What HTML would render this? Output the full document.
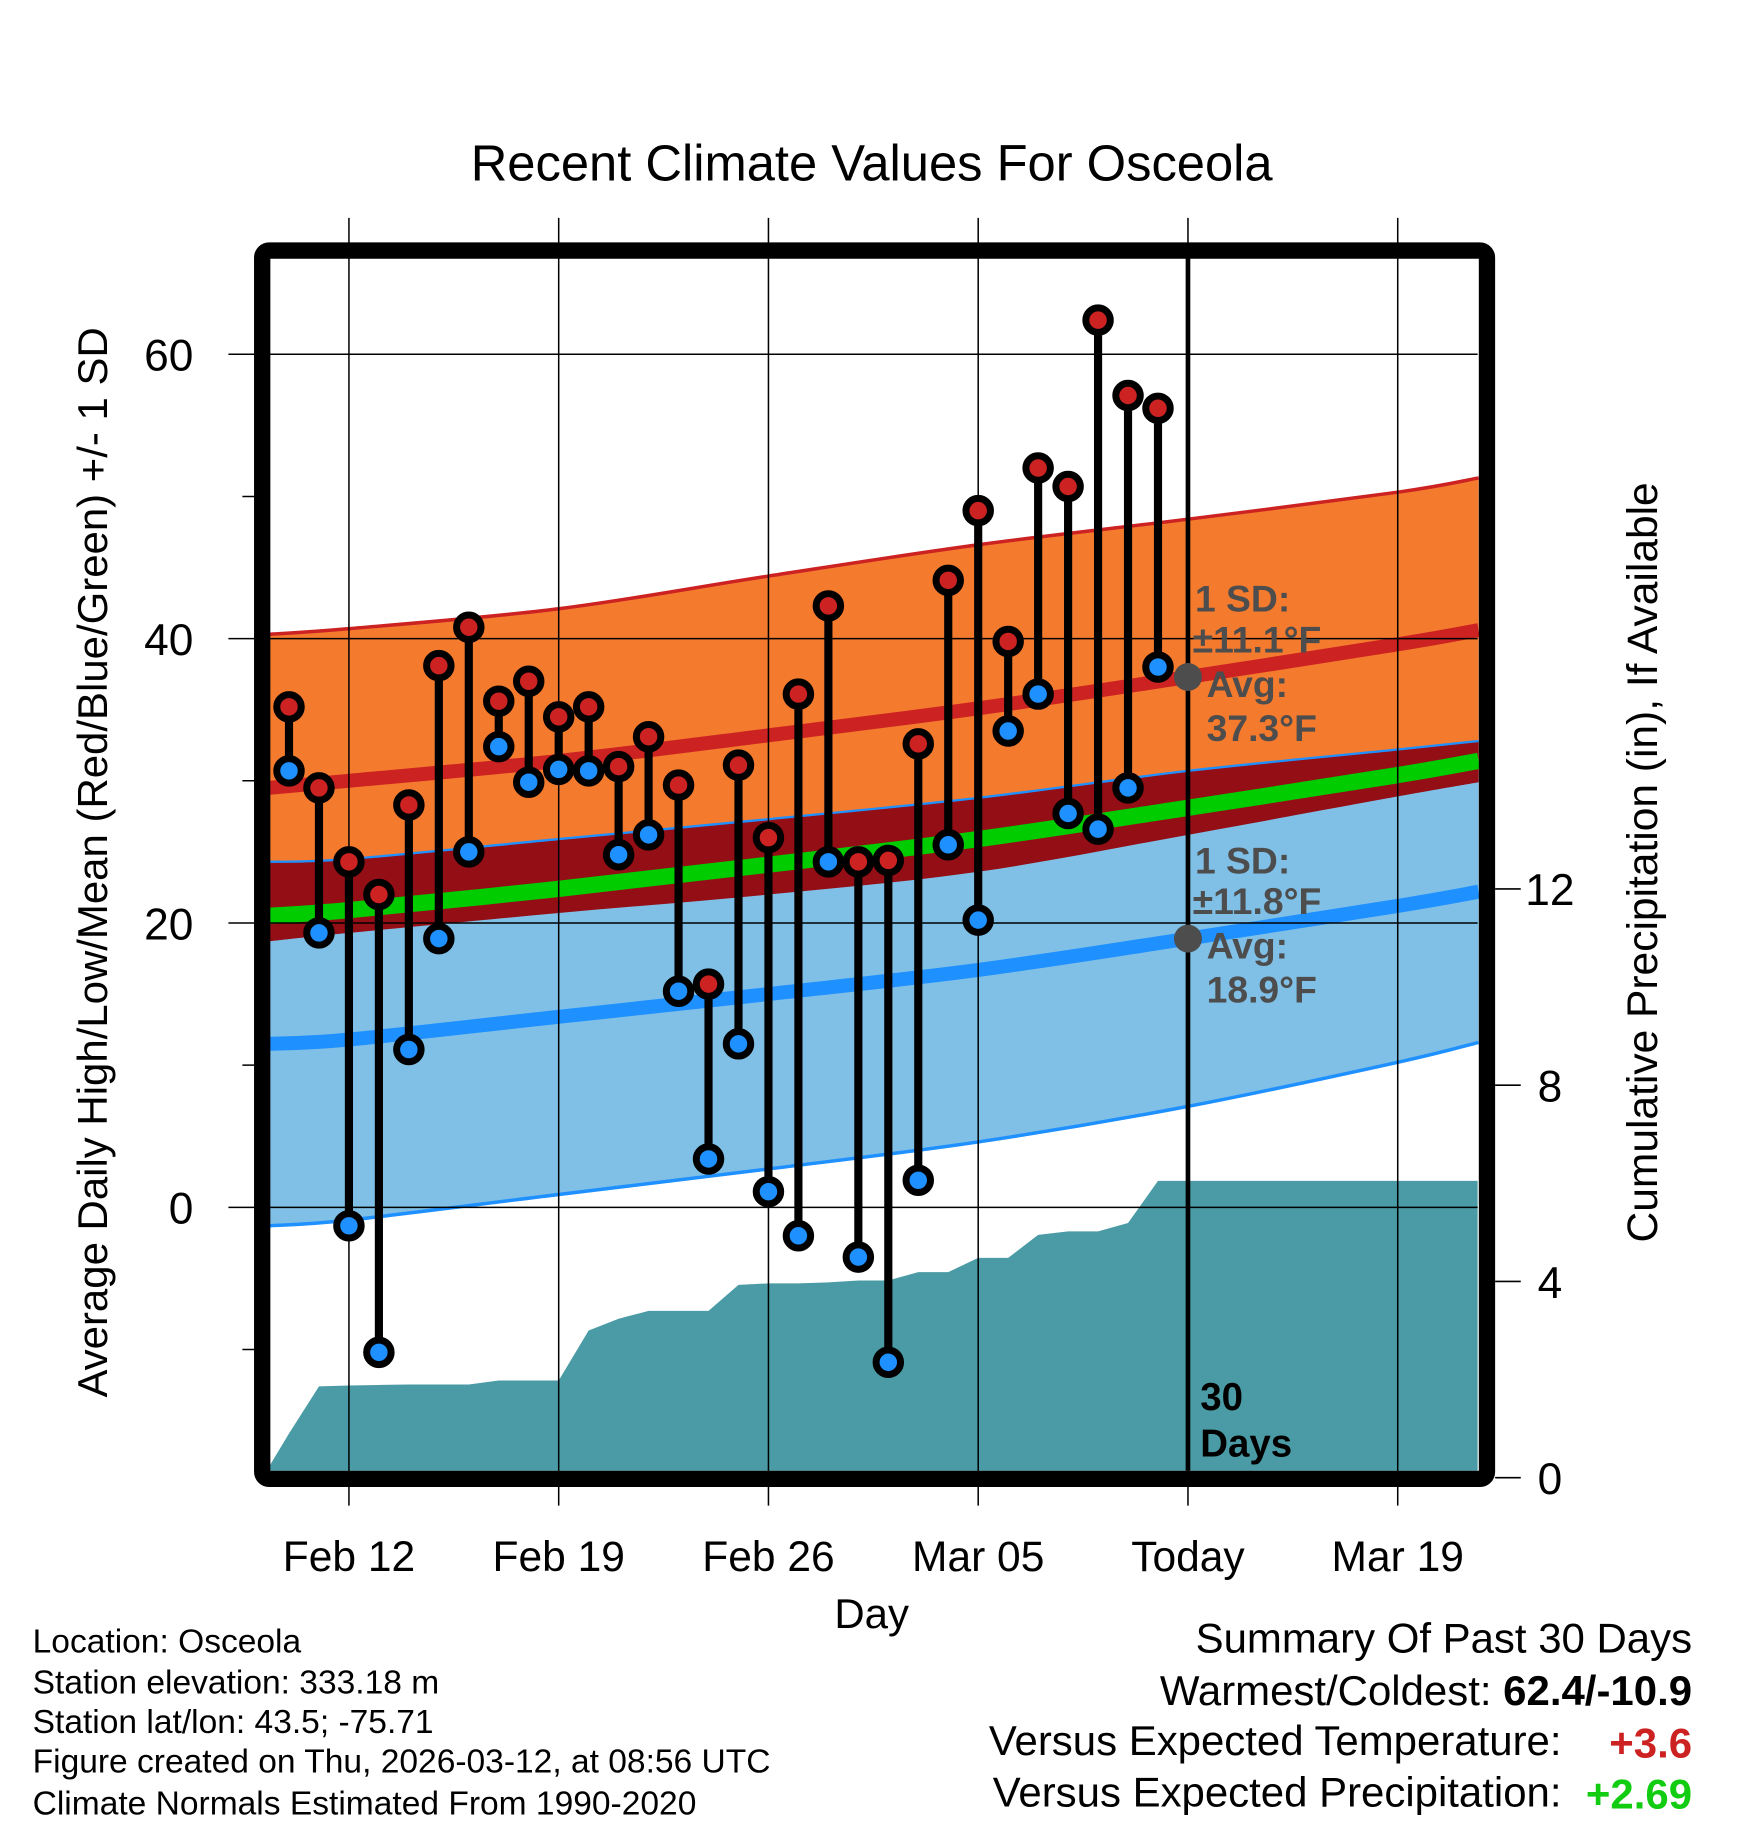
<!DOCTYPE html>
<html><head><meta charset="utf-8"><style>
html,body{margin:0;padding:0;background:#fff}
svg{display:block}
text{font-family:"Liberation Sans",Arial,sans-serif}
</style></head><body>
<svg id="chart" width="1748" height="1828" viewBox="0 0 1500 1568.6" preserveAspectRatio="none" xmlns="http://www.w3.org/2000/svg">
<text x="748" y="155" font-size="43.5" text-anchor="middle">Recent Climate Values For Osceola</text>
<g id="bg"></g>
<g id="grid"></g>
<g id="marks"></g>
<g id="frame"></g>
<g id="axes"></g>
<text transform="translate(92,740) rotate(-90)" font-size="36" text-anchor="middle">Average Daily High/Low/Mean (Red/Blue/Green) +/- 1 SD</text>
<text transform="translate(1422,740) rotate(-90)" font-size="36.5" text-anchor="middle">Cumulative Precipitation (in), If Available</text>
<text x="748" y="1397" font-size="36" text-anchor="middle">Day</text>
<g font-size="28.8">
<text x="28" y="1418">Location: Osceola</text>
<text x="28" y="1453">Station elevation: 333.18 m</text>
<text x="28" y="1487">Station lat/lon: 43.5; -75.71</text>
<text x="28" y="1521">Figure created on Thu, 2026-03-12, at 08:56 UTC</text>
<text x="28" y="1557">Climate Normals Estimated From 1990-2020</text>
</g>
<g font-size="36">
<text x="1452" y="1418" text-anchor="end">Summary Of Past 30 Days</text>
<text x="1452" y="1463" text-anchor="end">Warmest/Coldest: <tspan font-weight="bold">62.4/-10.9</tspan></text>
<text x="1340" y="1506" text-anchor="end">Versus Expected Temperature:</text>
<text x="1452" y="1508" text-anchor="end" font-weight="bold" fill="#cc2222">+3.6</text>
<text x="1340" y="1550" text-anchor="end">Versus Expected Precipitation:</text>
<text x="1452" y="1552" text-anchor="end" font-weight="bold" fill="#11cc11">+2.69</text>
</g>
</svg>
<script>
// data (day index 0 = Feb 10)
const highs=[35.2,29.5,24.3,22.0,28.3,38.1,40.8,35.6,37.0,34.5,35.2,31.0,33.1,29.7,15.7,31.1,26.0,36.1,42.3,24.3,24.4,32.6,44.1,49.0,39.8,52.0,50.7,62.4,57.1,56.2];
const lows=[30.7,19.3,-1.3,-10.2,11.1,18.9,25.0,32.4,29.9,30.8,30.7,24.8,26.2,15.2,3.4,11.5,1.1,-2.0,24.3,-3.5,-10.9,1.9,25.5,20.2,33.5,36.1,27.7,26.6,29.5,38.0];
const precip=[0.9,1.86,1.88,1.89,1.9,1.9,1.9,1.98,1.98,1.98,3.0,3.24,3.4,3.4,3.4,3.93,3.96,3.96,3.98,4.02,4.02,4.19,4.19,4.48,4.48,4.95,5.02,5.02,5.19,6.05];
const normDays=[-0.7,2,9,16,23,30,37,39.7];
const hiMean=[29.5,30.0,31.4,33.2,35.1,37.3,39.6,40.6];
const hiSD=[10.8,10.7,10.7,11.2,11.5,11.1,10.7,10.7];
const loMean=[11.5,11.8,13.4,15.0,16.7,18.9,21.2,22.2];
const loSD=[12.8,12.7,12.5,12.3,12.1,11.8,11.0,10.6];
const meanT=[20.5,20.9,22.4,24.1,25.9,28.1,30.4,31.4];
const xTickDays=[2,9,16,23,30,37];
const xTickLabels=["Feb 12","Feb 19","Feb 26","Mar 05","Today","Mar 19"];
const yTicks=[0,20,40,60];
const yMinor=[-10,10,30,50];
const y2Ticks=[0,4,8,12];
const todayDay=30, todayHi=37.3, todayLo=18.9, sdHi="11.1", sdLo="11.8";

const PL=230,PR=1268,PT=220,PB=1262;
const X=d=>248+d*25.714;
const Y=v=>1036-v*12.2;
const Y2=p=>1268-p*42.1;
const NS="http://www.w3.org/2000/svg";
function mk(tag,attrs,parent){const e=document.createElementNS(NS,tag);for(const k in attrs)e.setAttribute(k,attrs[k]);parent.appendChild(e);return e;}
function smooth(pts){let d=`M${pts[0][0]},${pts[0][1]}`;for(let i=0;i<pts.length-1;i++){const p0=pts[Math.max(i-1,0)],p1=pts[i],p2=pts[i+1],p3=pts[Math.min(i+2,pts.length-1)];
 d+=` C${p1[0]+(p2[0]-p0[0])/6},${p1[1]+(p2[1]-p0[1])/6} ${p2[0]-(p3[0]-p1[0])/6},${p2[1]-(p3[1]-p1[1])/6} ${p2[0]},${p2[1]}`;}return d;}
function curve(vals){return normDays.map((d,i)=>[X(d),Y(vals[i])]);}
function band(top,bot){const a=smooth(top);const b=smooth(bot.slice().reverse());return a+" L"+b.slice(1)+" Z";}
const bg=document.getElementById('bg'),grid=document.getElementById('grid'),marks=document.getElementById('marks'),frame=document.getElementById('frame'),axes=document.getElementById('axes');
const hiUp=hiMean.map((v,i)=>v+hiSD[i]),hiDn=hiMean.map((v,i)=>v-hiSD[i]);
const loUp=loMean.map((v,i)=>v+loSD[i]),loDn=loMean.map((v,i)=>v-loSD[i]);
let e;
e=mk('path',{d:band(curve(hiUp),curve(hiDn)),fill:'#f47a2e'},bg);

e=mk('path',{d:band(curve(loUp),curve(loDn)),fill:'#80c0e6'},bg);

e=mk('path',{d:band(curve(loUp),curve(hiDn)),fill:'#930e15'},bg);

e=mk('path',{d:smooth(curve(meanT)),fill:'none',stroke:'#00cc00','stroke-width':14},bg);

e=mk('path',{d:smooth(curve(loUp)),fill:'none',stroke:'#1e90ff','stroke-width':2},bg);

e=mk('path',{d:smooth(curve(loDn)),fill:'none',stroke:'#1e90ff','stroke-width':3},bg);

e=mk('path',{d:smooth(curve(hiUp)),fill:'none',stroke:'#cc2222','stroke-width':3},bg);

e=mk('path',{d:smooth(curve(hiMean)),fill:'none',stroke:'#cc2222','stroke-width':12},bg);

e=mk('path',{d:smooth(curve(loMean)),fill:'none',stroke:'#1e90ff','stroke-width':12},bg);

// precip area
let pd=`M${PL},${PB} L${PL},${Y2(0)-8}`;precip.forEach((p,i)=>{pd+=` L${X(i)},${Y2(p)}`;});
pd+=` L${PR},${Y2(precip[precip.length-1])} L${PR},${PB} Z`;
e=mk('path',{d:pd,fill:'#4a9ba5'},bg);

// grid
yTicks.forEach(v=>{e=mk('line',{x1:196,x2:PR,y1:Y(v),y2:Y(v),stroke:'#000','stroke-width':1.3},grid);
});
yMinor.forEach(v=>{e=mk('line',{x1:208,x2:222,y1:Y(v),y2:Y(v),stroke:'#000','stroke-width':1.3},grid);
});
xTickDays.forEach(d=>{e=mk('line',{x1:X(d),x2:X(d),y1:187,y2:1292,stroke:'#000','stroke-width':1.3},grid);
});
e=mk('line',{x1:X(todayDay),x2:X(todayDay),y1:PT,y2:PB,stroke:'#000','stroke-width':4},grid);

// stems + markers
highs.forEach((h,i)=>{e=mk('line',{x1:X(i),x2:X(i),y1:Y(h),y2:Y(lows[i]),stroke:'#000','stroke-width':7},marks);
});
highs.forEach((h,i)=>{e=mk('circle',{cx:X(i),cy:Y(h),r:10.5,fill:'#cc2222',stroke:'#000','stroke-width':6},marks);

e=mk('circle',{cx:X(i),cy:Y(lows[i]),r:10.5,fill:'#1e90ff',stroke:'#000','stroke-width':6},marks);
});
// today annotations
[[todayHi,sdHi],[todayLo,sdLo]].forEach(([v,sd],k)=>{
 e=mk('circle',{cx:X(todayDay),cy:Y(v),r:12,fill:'#4d4d4d'},marks);
 
 const t=mk('text',{x:X(todayDay)+6,y:Y(v)-56,'font-size':32,'font-weight':'bold',fill:'#4d4d4d'},marks);
 
 t.textContent='1 SD:';
 const t2=mk('text',{x:X(todayDay)+4,y:Y(v)-21,'font-size':32,'font-weight':'bold',fill:'#4d4d4d'},marks);
 
 t2.textContent='±'+sd+'°F';
 const t3=mk('text',{x:X(todayDay)+16,y:Y(v)+17,'font-size':32,'font-weight':'bold',fill:'#4d4d4d'},marks);
 
 t3.textContent='Avg:';
 const t4=mk('text',{x:X(todayDay)+16,y:Y(v)+55,'font-size':32,'font-weight':'bold',fill:'#4d4d4d'},marks);
 
 t4.textContent=v.toFixed(1)+'°F';
});
e=mk('text',{x:1030,y:1210,'font-size':33,'font-weight':'bold'},marks);

e.textContent='30';
e=mk('text',{x:1030,y:1250,'font-size':33,'font-weight':'bold'},marks);

e.textContent='Days';
// frame
e=mk('rect',{x:225,y:215,width:1051,height:1054,rx:6,fill:'none',stroke:'#000','stroke-width':14},frame);

// axes labels
yTicks.forEach(v=>{e=mk('text',{x:166,y:Y(v)+14,'font-size':38,'text-anchor':'end'},axes);
e.textContent=v;});
y2Ticks.forEach(p=>{e=mk('line',{x1:1283,x2:1305,y1:Y2(p),y2:Y2(p),stroke:'#000','stroke-width':1.3},axes);

e=mk('text',{x:1330,y:Y2(p)+14,'font-size':38,'text-anchor':'middle'},axes);
e.textContent=p;});
xTickDays.forEach((d,i)=>{e=mk('text',{x:X(d),y:1348,'font-size':36.5,'text-anchor':'middle'},axes);
e.textContent=xTickLabels[i];});
</script>
</body></html>
